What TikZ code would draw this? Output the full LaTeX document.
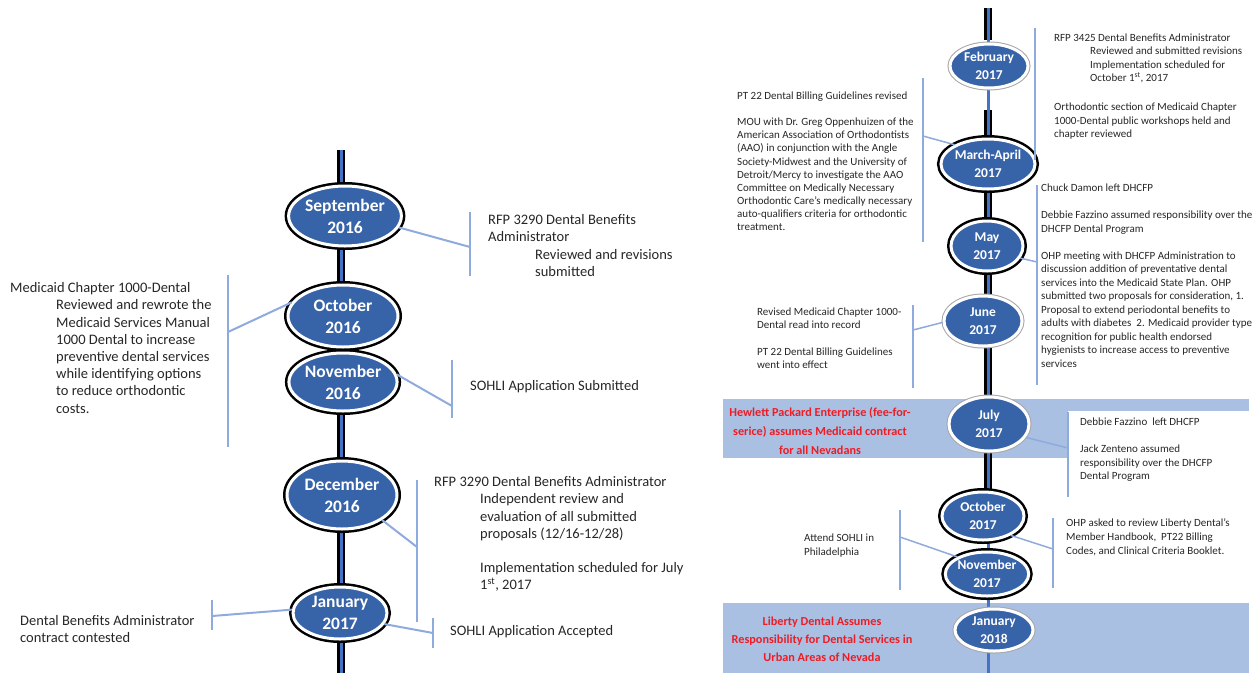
\documentclass[tikz,border=0pt]{standalone}
\usepackage{fontspec}
\setmainfont{Carlito}
\usetikzlibrary{shapes.geometric}
\definecolor{ellblue}{RGB}{55,99,168}
\definecolor{lineblue}{RGB}{68,114,196}
\definecolor{conblue}{RGB}{143,170,220}
\definecolor{bandblue}{RGB}{170,192,227}
\definecolor{hired}{RGB}{238,28,36}
\definecolor{notegray}{RGB}{38,38,38}
\tikzset{
  evb/.style={ellipse, fill=ellblue, draw=white, line width=3pt,
    preaction={draw=black, line width=8pt}, text=white, align=center, inner sep=0pt},
  evl/.style={ellipse, fill=ellblue, draw=white, line width=3pt,
    preaction={draw=black!35, line width=5pt}, text=white, align=center, inner sep=0pt},
  bigtxt/.style={font=\bfseries\fontsize{17.5}{22}\selectfont},
  smalltxt/.style={font=\bfseries\fontsize{13.5}{18}\selectfont},
  tl/.style={draw=black, double=lineblue, line width=2.5pt, double distance=3pt},
  tlthin/.style={draw=lineblue, line width=3pt},
  conn/.style={draw=conblue, line width=2pt},
  connr/.style={draw=conblue, line width=1.5pt},
  lnote/.style={anchor=north west, align=left, inner sep=0pt, text=notegray,
    font=\fontsize{14.5}{17.2}\selectfont},
  rnote/.style={anchor=north west, align=left, inner sep=0pt, text=notegray,
    font=\fontsize{11}{13.3}\selectfont},
  rednote/.style={align=center, inner sep=0pt, text=hired,
    font=\bfseries\fontsize{12.2}{19}\selectfont},
}
\begin{document}
\begin{tikzpicture}[x=1pt,y=-1pt]
\useasboundingbox (0,0) rectangle (1260,673);
% bands
\fill[bandblue] (723,399) rectangle (1249,458);
\fill[bandblue] (723,603) rectangle (1249,673);
\fill[white] (1068,411) rectangle (1250,459);
% left timeline
\coordinate (LT) at (341,150);
\coordinate (LB) at (341,673);
\draw[tl] (LT) -- (LB);
% right timeline
\coordinate (RT) at (988,8);
\coordinate (RB) at (988,673);
\coordinate (R1) at (988,40);
\coordinate (R2) at (988,110);
\coordinate (R3) at (988,370);
\coordinate (R4) at (988,395);
\coordinate (R5) at (988,445);
\coordinate (R6) at (988,492);
\draw[tlthin] (RT) -- (RB);
\draw[tl] (RT) -- (R1);
\draw[tl] (R2) -- (R3);
\draw[tl] (R5) -- (R6);
\draw[tl] (R3) -- (R4);
% left ellipses
\node[evb, bigtxt, minimum width=110, minimum height=60] (sep) at (345,216) {September\\2016};
\node[evb, bigtxt, minimum width=110, minimum height=62] (oct) at (343,316) {October\\2016};
\node[evb, bigtxt, minimum width=106, minimum height=58] (nov) at (343,382) {November\\2016};
\node[evb, bigtxt, minimum width=110, minimum height=68] (dec) at (342,495) {December\\2016};
\node[evb, bigtxt, minimum width=94, minimum height=52] (jan) at (340,613) {January\\2017};
% right ellipses
\node[evl, smalltxt, minimum width=78, minimum height=44] (feb) at (989,66) {February\\2017};
\node[evb, smalltxt, minimum width=80, minimum height=50] (mar) at (988,164) {March-April\\2017};
\node[evb, smalltxt, minimum width=72, minimum height=50] (may) at (987,246) {May\\2017};
\node[evl, smalltxt, minimum width=78, minimum height=50] (jun) at (983,321) {June\\2017};
\node[evl, smalltxt, minimum width=80, minimum height=54] (jul) at (989,424) {July\\2017};
\node[evb, smalltxt, minimum width=82, minimum height=48] (oct17) at (983,516) {October\\2017};
\node[evb, smalltxt, minimum width=82, minimum height=44] (nov17) at (987,574) {November\\2017};
\node[evl, smalltxt, minimum width=78, minimum height=42] (jan18) at (994,630) {January\\2018};
% left brackets and connectors
\coordinate (b1t) at (470,212); \coordinate (b1b) at (470,276); \coordinate (b1m) at (470,247);
\draw[conn] (b1t) -- (b1b); \draw[conn] (sep.-12) -- (b1m);
\coordinate (b2t) at (228,275); \coordinate (b2b) at (228,447); \coordinate (b2m) at (228,332);
\draw[conn] (b2t) -- (b2b); \draw[conn] (oct.165) -- (b2m);
\coordinate (b3t) at (452,360); \coordinate (b3b) at (452,418); \coordinate (b3m) at (452,406);
\draw[conn] (b3t) -- (b3b); \draw[conn] (nov.8) -- (b3m);
\coordinate (b4t) at (417,480); \coordinate (b4b) at (417,622); \coordinate (b4m) at (417,547);
\draw[conn] (b4t) -- (b4b); \draw[conn] (dec.-32) -- (b4m);
\coordinate (b5t) at (212,600); \coordinate (b5b) at (212,630); \coordinate (b5m) at (212,616);
\draw[conn] (b5t) -- (b5b); \draw[conn] (jan.176) -- (b5m);
\coordinate (b6t) at (433,618); \coordinate (b6b) at (433,648); \coordinate (b6m) at (433,633);
\draw[conn] (b6t) -- (b6b); \draw[conn] (jan.-14) -- (b6m);
% right brackets and connectors
\coordinate (c1t) at (1035,28); \coordinate (c1b) at (1035,160);
\draw[connr] (c1t) -- (c1b);
\coordinate (c2t) at (923,78); \coordinate (c2b) at (923,242); \coordinate (c2m) at (923,136);
\draw[connr] (c2t) -- (c2b); \draw[connr] (mar.150) -- (c2m);
\coordinate (c3t) at (1037,185); \coordinate (c3b) at (1037,385); \coordinate (c3m) at (1037,262);
\draw[connr] (c3t) -- (c3b); \draw[connr] (may.-20) -- (c3m);
\coordinate (c4t) at (913,305); \coordinate (c4b) at (913,388); \coordinate (c4m) at (913,330);
\draw[connr] (c4t) -- (c4b); \draw[connr] (jun.182) -- (c4m);
\coordinate (c5t) at (1068,412); \coordinate (c5b) at (1068,497); \coordinate (c5m) at (1068,448);
\draw[connr] (c5t) -- (c5b); \draw[connr] (jul.-20) -- (c5m);
\coordinate (c6t) at (1053,518); \coordinate (c6b) at (1053,588); \coordinate (c6m) at (1053,549);
\draw[connr] (c6t) -- (c6b); \draw[connr] (oct17.-35) -- (c6m);
\coordinate (c7t) at (900,510); \coordinate (c7b) at (900,590); \coordinate (c7m) at (900,537);
\draw[connr] (c7t) -- (c7b); \draw[connr] (nov17.150) -- (c7m);
% left notes
\node[lnote] (nsep) at (488,214.5) {RFP 3290 Dental Benefits\\Administrator\\\hspace*{47pt}Reviewed and revisions\\\hspace*{47pt}submitted};
\node[lnote] (noct) at (10,282.5) {Medicaid Chapter 1000-Dental\\\hspace*{46pt}Reviewed and rewrote the\\\hspace*{46pt}Medicaid Services Manual\\\hspace*{46pt}1000 Dental to increase\\\hspace*{46pt}preventive dental services\\\hspace*{46pt}while identifying options\\\hspace*{46pt}to reduce orthodontic\\\hspace*{46pt}costs.};
\node[lnote] (nnov) at (470,380.5) {SOHLI Application Submitted};
\node[lnote] (ndec) at (434,476.5) {RFP 3290 Dental Benefits Administrator\\\hspace*{46pt}Independent review and\\\hspace*{46pt}evaluation of all submitted\\\hspace*{46pt}proposals (12/16-12/28)\\[17.2pt]\hspace*{46pt}Implementation scheduled for July\\\hspace*{46pt}1\textsuperscript{st}, 2017};
\node[lnote] (njanl) at (20,615.5) {Dental Benefits Administrator\\contract contested};
\node[lnote] (njanr) at (450,625.5) {SOHLI Application Accepted};
% right notes
\node[rnote] (nfeb) at (1054,33.8) {RFP 3425 Dental Benefits Administrator\\\hspace*{36pt}Reviewed and submitted revisions\\\hspace*{36pt}Implementation scheduled for\\\hspace*{36pt}October 1\textsuperscript{st}, 2017\\[16pt]Orthodontic section of Medicaid Chapter\\1000-Dental public workshops held and\\chapter reviewed};
\node[rnote, font=\fontsize{11}{13.1}\selectfont] (nmar) at (737,91.8) {PT 22 Dental Billing Guidelines revised\\[13pt]MOU with Dr. Greg Oppenhuizen of the\\American Association of Orthodontists\\(AAO) in conjunction with the Angle\\Society-Midwest and the University of\\Detroit/Mercy to investigate the AAO\\Committee on Medically Necessary\\Orthodontic Care’s medically necessary\\auto-qualifiers criteria for orthodontic\\treatment.};
\node[rnote, font=\fontsize{11}{13.5}\selectfont] (nmay) at (1041,183.8) {Chuck Damon left DHCFP\\[13.5pt]Debbie Fazzino assumed responsibility over the\\DHCFP Dental Program\\[13.5pt]OHP meeting with DHCFP Administration to\\discussion addition of preventative dental\\services into the Medicaid State Plan. OHP\\submitted two proposals for consideration, 1.\\Proposal to extend periodontal benefits to\\adults with diabetes\ \ 2. Medicaid provider type\\recognition for public health endorsed\\hygienists to increase access to preventive\\services};
\node[rnote] (njun) at (757,307.8) {Revised Medicaid Chapter 1000-\\Dental read into record\\[13pt]PT 22 Dental Billing Guidelines\\went into effect};
\node[rnote] (njul) at (1080,417.8) {Debbie Fazzino\ \ left DHCFP\\[14pt]Jack Zenteno assumed\\responsibility over the DHCFP\\Dental Program};
\node[rnote, font=\fontsize{11}{14}\selectfont] (noctr) at (1066,518.8) {OHP asked to review Liberty Dental’s\\Member Handbook,\ \ PT22 Billing\\Codes, and Clinical Criteria Booklet.};
\node[rnote, font=\fontsize{11}{14}\selectfont] (noctl) at (804,533.8) {Attend SOHLI in\\Philadelphia};
% red notes
\node[rednote] (nhp) at (820,431) {Hewlett Packard Enterprise (fee-for-\\serice) assumes Medicaid contract\\for all Nevadans};
\node[rednote, font=\bfseries\fontsize{12.2}{18}\selectfont] (nlib) at (822,639) {Liberty Dental Assumes\\Responsibility for Dental Services in\\Urban Areas of Nevada};
\end{tikzpicture}
\end{document}
